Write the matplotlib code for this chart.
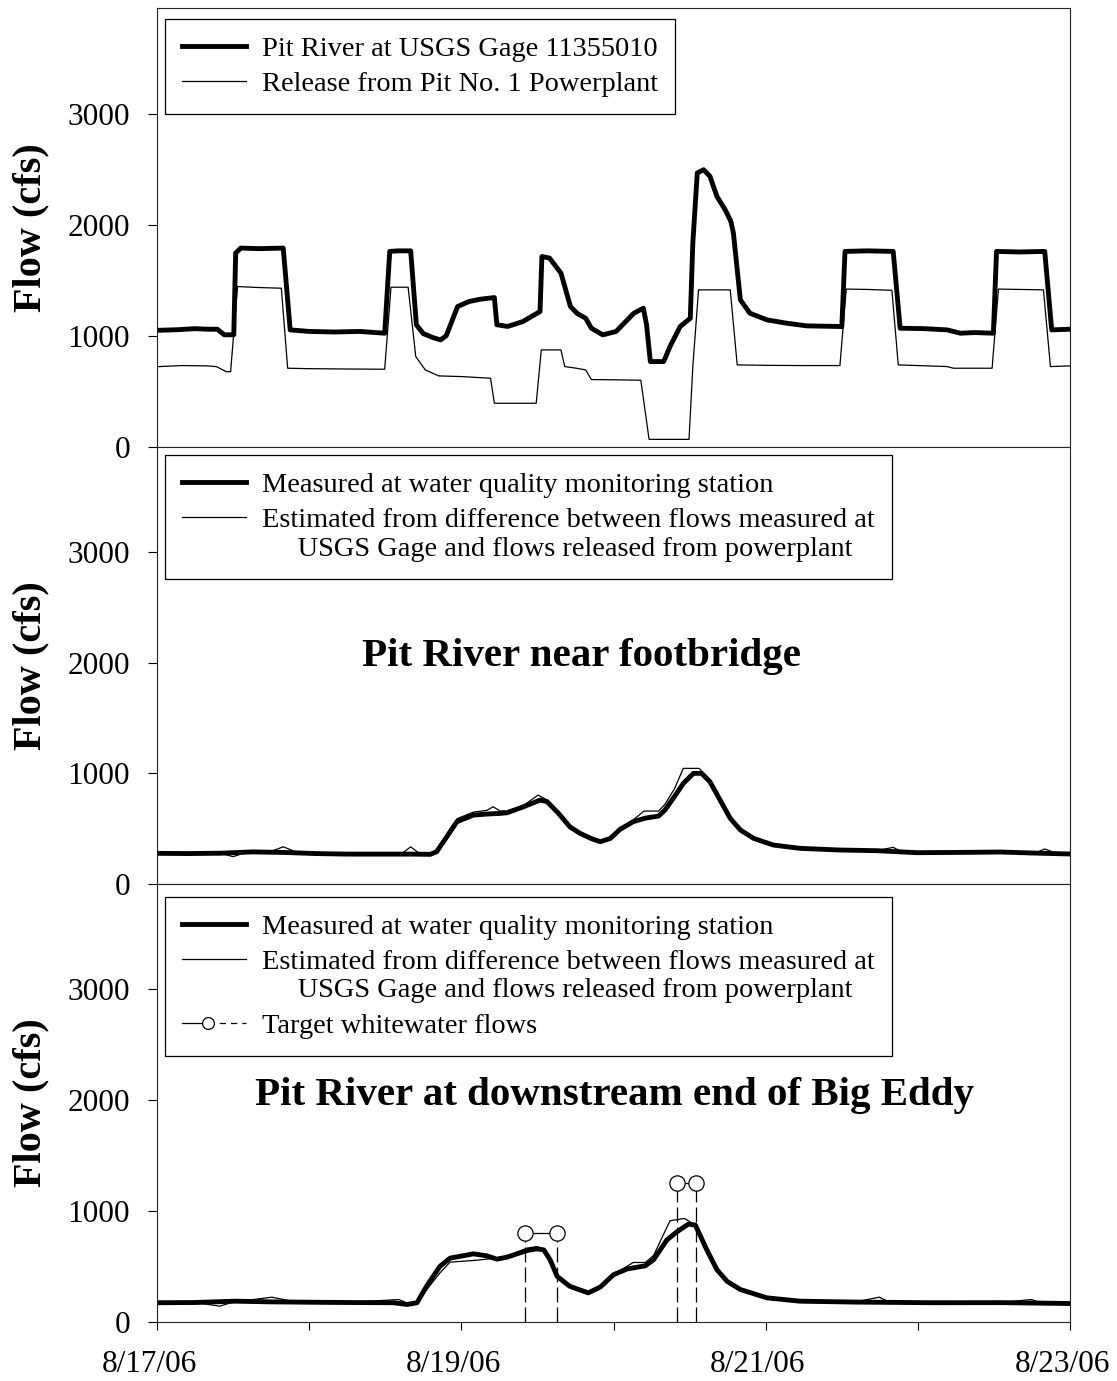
import numpy as np
import matplotlib
matplotlib.use('Agg')
import matplotlib.pyplot as plt
from matplotlib.lines import Line2D
from matplotlib.legend_handler import HandlerBase, HandlerLine2D
import matplotlib.transforms as mtransforms

plt.rcParams['font.family'] = ['Liberation Serif', 'DejaVu Serif']

# ---------------- data (x = hours after 8/17/06 00:00) ----------------
gage_h = [0, 3, 6, 8, 9.5, 10.6, 12.1, 12.4, 13.2, 16, 19.9, 21.0, 24, 28, 32, 35.9,
          36.7, 38, 40.0, 40.9, 42, 43.5, 44.7, 45.6, 47.4, 49.2, 51, 53.2, 53.6, 55.3,
          57.7, 60.4, 60.7, 61.9, 63.7, 65.2, 66.3, 67.6, 68.5, 70.3, 72.4, 75.2, 76.7,
          77.2, 77.8, 79.9, 80.9, 82.5, 84.1, 84.5, 85.2, 86.2, 87.2, 88.3, 89.6, 90.5,
          90.9, 92.0, 93.5, 96.2, 99.3, 102.5, 108.0, 108.5, 112, 116.1, 117.2, 121,
          124.6, 126.7, 129, 131.9, 132.4, 136, 140.0, 141.1, 144]
gage_q = [1050, 1055, 1065, 1060, 1060, 1010, 1010, 1745, 1790, 1785, 1790, 1054, 1040,
          1035, 1040, 1024, 1760, 1765, 1765, 1099, 1020, 985, 964, 1000, 1264, 1309,
          1330, 1345, 1100, 1085, 1129, 1219, 1714, 1700, 1565, 1264, 1200, 1159, 1069,
          1009, 1040, 1204, 1249, 1100, 769, 769, 904, 1084, 1159, 1835, 2466, 2495,
          2436, 2255, 2135, 2030, 1925, 1324, 1204, 1144, 1114, 1090, 1084, 1760, 1765,
          1760, 1069, 1065, 1054, 1024, 1030, 1024, 1760, 1755, 1760, 1054, 1060]

rel_h = [0, 4, 8, 9.4, 10.9, 11.6, 12.7, 16, 19.6, 20.6, 24, 30, 35.9, 36.9, 39.6, 40.8,
         42.3, 44.4, 48, 52.6, 53.2, 59.8, 60.6, 63.7, 64.3, 66, 67.6, 68.5, 72, 76.3,
         77.6, 83.9, 84.5, 85.4, 90.4, 91.5, 96, 102, 107.7, 108.7, 112, 115.9, 116.9,
         124.6, 125.6, 131.7, 132.7, 136, 139.8, 140.9, 144]
rel_q = [723, 733, 730, 723, 678, 678, 1444, 1435, 1429, 709, 705, 702, 700, 1438, 1438,
         814, 694, 640, 634, 619, 394, 394, 874, 874, 724, 710, 694, 607, 605, 601, 69,
         69, 724, 1414, 1414, 739, 735, 733, 733, 1421, 1418, 1410, 739, 724, 709, 709,
         1421, 1418, 1414, 724, 730]

fb_meas_h = [0, 5, 10, 15, 20, 25, 30, 35, 40, 43.1, 44.1, 45.7, 47.3, 49.9, 52, 54.1,
             55.2, 57.8, 60.4, 61.5, 63.3, 65.1, 66.7, 68.5, 69.9, 71.5, 73.0, 75.1, 77,
             79.1, 80.1, 81.6, 83.0, 84.6, 85.9, 87.2, 88.8, 90.4, 92.0, 94.1, 97.2,
             101.4, 107.7, 113.5, 119.8, 126, 133, 138, 144]
fb_meas_q = [277, 275, 278, 290, 285, 275, 270, 270, 270, 268, 292, 427, 563, 623, 632,
             638, 644, 698, 758, 745, 640, 517, 458, 410, 382, 412, 493, 563, 595, 614,
             668, 790, 909, 1000, 1000, 924, 759, 593, 488, 412, 352, 322, 307, 301, 283,
             285, 289, 280, 271]

fb_est_h = [0, 5, 10, 12, 14, 18, 19.9, 22, 25, 30, 35, 38.5, 40, 41.5, 43.1, 44.1, 45.7,
            47.3, 49.9, 52, 53, 54.1, 55.2, 57.8, 60.1, 61.5, 63.3, 65.1, 66.7, 68.5,
            69.9, 71.5, 73.0, 75.1, 76.8, 79.1, 80.1, 81.6, 83.0, 85.5, 87.2, 88.8, 90.4,
            92.0, 94.1, 97.2, 101.4, 107.7, 113.5, 116.1, 117.5, 119.8, 126, 133, 138.5,
            140, 141.5, 144]
fb_est_q = [277, 275, 278, 247, 285, 295, 336, 288, 275, 270, 270, 270, 336, 270, 268,
            300, 450, 590, 650, 665, 698, 660, 660, 710, 804, 760, 640, 517, 458, 410,
            382, 412, 500, 580, 659, 659, 720, 860, 1045, 1045, 940, 775, 600, 488, 412,
            352, 322, 307, 301, 331, 290, 283, 285, 289, 280, 316, 285, 271]

be_meas_h = [0, 6, 12.3, 18, 25, 30, 37.3, 39.4, 41, 42.5, 44.6, 46.2, 49.9, 52, 53.6,
             55.2, 58.3, 59.9, 61.0, 62.0, 63.1, 65.1, 68, 69.9, 72, 74.1, 77, 78.3, 80.4,
             82, 83.8, 84.9, 86.7, 88.3, 89.9, 92, 96.2, 101.4, 110, 122.4, 133, 144]
be_meas_q = [174, 176, 188, 182, 178, 176, 174, 158, 174, 322, 501, 576, 615, 597, 567,
             585, 644, 660, 650, 560, 412, 322, 263, 315, 427, 478, 507, 561, 740, 814,
             883, 874, 651, 472, 367, 293, 218, 188, 180, 174, 175, 167]

be_est_h = [0, 6, 9.9, 12, 18.1, 22, 30, 38.1, 39.5, 41, 42.5, 44.6, 46.2, 49.9, 53.6,
            55.2, 58.3, 59.9, 61.0, 62.0, 63.1, 65.1, 68, 69.9, 72, 75.1, 77, 78.3, 80.9,
            83.2, 84.9, 86.7, 88.3, 89.9, 92, 96.2, 101.4, 110, 113.9, 115.5, 122.4, 133,
            137.9, 139.5, 144]
be_est_q = [174, 176, 143, 180, 224, 180, 176, 203, 170, 170, 290, 442, 540, 555, 576,
            590, 666, 680, 660, 560, 420, 322, 263, 315, 427, 537, 537, 600, 913, 934,
            874, 651, 472, 367, 293, 218, 188, 180, 224, 180, 174, 175, 203, 172, 167]

target_h = [[58, 63], [82, 85]]
target_q = [[800, 800], [1250, 1250]]

day_ticks = [0, 24, 48, 72, 96, 120, 144]
day_labels = ['8/17/06', '', '8/19/06', '', '8/21/06', '', '8/23/06']
y_ticks = [0, 1000, 2000, 3000]

leg1_labels = ['Pit River at USGS Gage 11355010', 'Release from Pit No. 1 Powerplant']
leg2_labels = ['Measured at water quality monitoring station',
               'Estimated from difference between flows measured at\n'
               '     USGS Gage and flows released from powerplant']
target_label = 'Target whitewater flows'
title_fb = 'Pit River near footbridge'
title_be = 'Pit River at downstream end of Big Eddy'
ylab = 'Flow (cfs)'

# ---------------- styles ----------------
THICK = 3.5
THIN = 0.9
FS_TICK = 22.5
FS_LEG = 20.4
FS_TITLE = 29.5
FS_YLAB = 29
LSP = 0.34
BPAD = 0.6


class HandlerShiftLine(HandlerLine2D):
    def __init__(self, shift, **kw):
        super().__init__(**kw)
        self.shift = shift

    def create_artists(self, legend, orig_handle, xdescent, ydescent, width, height,
                       fontsize, trans):
        arts = super().create_artists(legend, orig_handle, xdescent, ydescent, width,
                                      height, fontsize, trans)
        for a in arts:
            a.set_ydata(np.asarray(a.get_ydata(), float) + self.shift)
        return arts


class HandlerTarget(HandlerBase):
    def create_artists(self, legend, orig_handle, xdescent, ydescent, width, height,
                       fontsize, trans):
        y = (height - ydescent) / 2.0
        x0 = -xdescent
        x1 = -xdescent + width
        xm = x0 + 0.4 * width
        solid = Line2D([x0, xm], [y, y], color='black', lw=THIN)
        dash = Line2D([xm, x1], [y, y], color='black', lw=THIN, linestyle=(0, (5, 4)))
        circ = Line2D([xm], [y], marker='o', ms=8.5, mfc='white', mec='black',
                      mew=THIN, linestyle='none')
        for a in (solid, dash, circ):
            a.set_transform(trans)
        return [solid, dash, circ]


def make_legend(ax, handles, labels, anchor_y, handler_map=None):
    leg = ax.legend(handles, labels, loc='upper left', bbox_to_anchor=(0.0088, anchor_y),
                    borderaxespad=0, fontsize=FS_LEG, fancybox=False, edgecolor='black',
                    framealpha=1, handlelength=2.26, handletextpad=0.57, borderpad=BPAD,
                    labelspacing=LSP, handler_map=handler_map)
    leg.get_frame().set_linewidth(0.9)
    return leg


fig = plt.figure(figsize=(11.17, 13.81), dpi=100)
L, W = 0.1406, 0.8174
ax1 = fig.add_axes([L, 0.6763, W, 0.3179])
ax2 = fig.add_axes([L, 0.3599, W, 0.3164])
ax3 = fig.add_axes([L, 0.0427, W, 0.3172])

for ax in (ax1, ax2, ax3):
    ax.set_xlim(0, 144)
    ax.set_ylim(0, 3950)
    ax.set_yticks(y_ticks)
    ax.set_yticklabels([str(v) for v in y_ticks])
    ax.tick_params(axis='y', direction='out', length=6.5, width=0.8,
                   labelsize=FS_TICK, pad=13)
    for sp in ax.spines.values():
        sp.set_linewidth(0.8)
        sp.set_color('#222222')
    ax.set_ylabel(ylab, fontsize=FS_YLAB, fontweight='bold')
    ax.yaxis.set_label_coords(-0.118, 0.5)

for ax in (ax1, ax2):
    ax.set_xticks(day_ticks)
    ax.tick_params(axis='x', bottom=False, labelbottom=False)

ax3.set_xticks(day_ticks)
ax3.set_xticklabels(day_labels)
ax3.tick_params(axis='x', direction='out', length=6, width=0.8, labelsize=FS_TICK, pad=14)
shift = mtransforms.ScaledTranslation(-8 / 100, 0, fig.dpi_scale_trans)
for lab in ax3.get_xticklabels():
    lab.set_transform(lab.get_transform() + shift)

shift_pts = 0.5 * 1.2 * FS_LEG

# ---- top panel ----
ax1.plot(rel_h, rel_q, color='black', lw=THIN)
ax1.plot(gage_h, gage_q, color='black', lw=THICK, solid_joinstyle='round')
h1 = Line2D([], [], color='black', lw=THICK)
h2 = Line2D([], [], color='black', lw=THIN)
make_legend(ax1, [h1, h2], leg1_labels, 0.975)

# ---- middle panel ----
ax2.plot(fb_meas_h, fb_meas_q, color='black', lw=THICK, solid_joinstyle='round')
ax2.plot(fb_est_h, fb_est_q, color='black', lw=THIN)
ax2.text(0.465, 0.52, title_fb, transform=ax2.transAxes, ha='center', va='center',
         fontsize=FS_TITLE, fontweight='bold')
hm = Line2D([], [], color='black', lw=THICK)
he = Line2D([], [], color='black', lw=THIN)
make_legend(ax2, [hm, he], leg2_labels, 0.981, {he: HandlerShiftLine(shift_pts)})

# ---- bottom panel ----
ax3.plot(be_meas_h, be_meas_q, color='black', lw=THICK, solid_joinstyle='round')
ax3.plot(be_est_h, be_est_q, color='black', lw=THIN)
for th, tq in zip(target_h, target_q):
    ax3.vlines(th, 0, tq, colors='black', linestyles=(0, (12, 4)), lw=THIN, zorder=3)
    ax3.plot(th, tq, color='black', lw=THIN, marker='o', ms=11, mfc='white',
             mec='black', mew=THIN, zorder=4)
ax3.text(0.5005, 0.518, title_be, transform=ax3.transAxes, ha='center', va='center',
         fontsize=FS_TITLE, fontweight='bold')
ht = Line2D([], [], color='black', lw=THIN)
hm3 = Line2D([], [], color='black', lw=THICK)
he3 = Line2D([], [], color='black', lw=THIN)
make_legend(ax3, [hm3, he3, ht], leg2_labels + [target_label], 0.970,
            {he3: HandlerShiftLine(shift_pts), ht: HandlerTarget()})

fig.savefig('out.png', dpi=100)
